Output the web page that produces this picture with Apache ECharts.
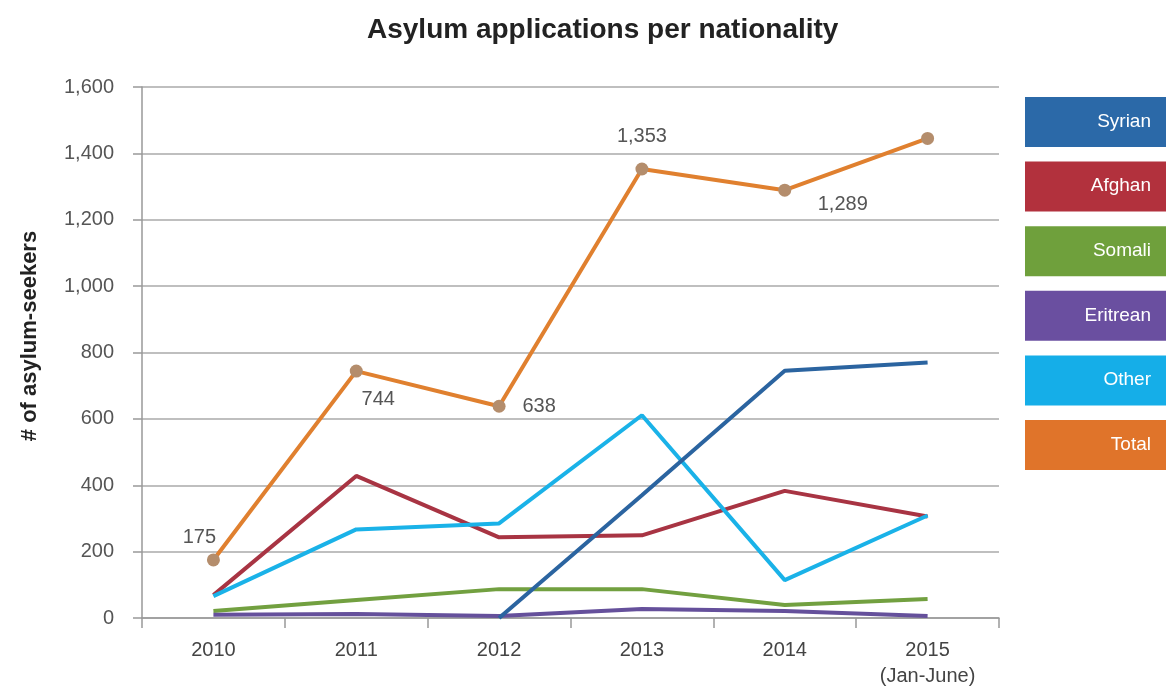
<!DOCTYPE html>
<html>
<head>
<meta charset="utf-8">
<script src="https://cdn.jsdelivr.net/npm/echarts@6/dist/echarts.min.js"></script>
<style>
html,body{margin:0;padding:0;background:#fff;}
#chart{width:1167px;height:689px;}
</style>
</head>
<body>
<div id="chart"></div>
<script>
var categories = ['2010', '2011', '2012', '2013', '2014', '2015\n(Jan-June)'];
var seriesNames = ['Syrian', 'Afghan', 'Somali', 'Eritrean', 'Other', 'Total'];
var syrian   = [null, null, 0, 370, 745, 770];
var afghan   = [69, 428, 243, 249, 383, 306];
var somali   = [21, 54, 87, 87, 39, 57];
var eritrean = [10, 12, 6, 27, 21, 6];
var other    = [66, 267, 285, 611, 114, 309];
var total    = [175, 744, 638, 1353, 1289, 1445];
var yTicks   = [0, 200, 400, 600, 800, 1000, 1200, 1400, 1600];
var yAxisTitle = '# of asylum-seekers';

var lineColors   = ['#2b64a0', '#a83443', '#72a040', '#65509b', '#1ab2e8', '#e0802f'];
var legendColors = ['#2b69a8', '#b2313d', '#6fa03c', '#6a4fa0', '#15aee8', '#e0742a'];
var totalLabelPos = [[-14, -22], [22, 28], [40, 0], [0, -32], [58, 14], null];

var values = [syrian, afghan, somali, eritrean, other, total];

function fmt(v){ return v.toString().replace(/\B(?=(\d{3})+(?!\d))/g, ','); }

var series = values.map(function(arr, i){
  var isTotal = seriesNames[i] === 'Total';
  var data = arr.map(function(v, j){
    if (!isTotal) return v;
    var p = totalLabelPos[j];
    return {
      value: v,
      label: p ? {show: true, position: 'inside', offset: p, formatter: function(){ return fmt(v); },
                  color: '#555', fontSize: 20, fontFamily: 'Liberation Sans'} : {show: false}
    };
  });
  return {
    name: seriesNames[i],
    type: 'line',
    data: data,
    z: isTotal ? 10 : (i === 0 ? 6 : 5),
    symbol: isTotal ? 'circle' : 'none',
    symbolSize: 13,
    showSymbol: isTotal,
    itemStyle: {color: isTotal ? '#b48d6c' : lineColors[i]},
    lineStyle: {color: lineColors[i], width: 4},
    emphasis: {disabled: true},
    animation: false
  };
});

var graphics = [];
seriesNames.forEach(function(n, i){
  var top = 97 + i * 64.6;
  graphics.push({
    type: 'rect', left: 1025, top: top,
    shape: {width: 141, height: 50},
    style: {fill: legendColors[i]}
  });
  graphics.push({
    type: 'text', right: 1167 - 1151, top: top + 15,
    style: {text: n, fill: '#fff', font: '19px "Liberation Sans Narrow", "Liberation Sans", sans-serif', textAlign: 'right'}
  });
});
graphics.push({
  type: 'text', x: 30, y: 336, rotation: Math.PI / 2,
  style: {text: yAxisTitle, fill: '#222', font: 'bold 22px "Liberation Sans", sans-serif',
          textAlign: 'center', textVerticalAlign: 'middle'}
});

var chart = echarts.init(document.getElementById('chart'), null, {renderer: 'canvas'});
chart.setOption({
  backgroundColor: '#fff',
  animation: false,
  title: {
    text: 'Asylum applications per nationality',
    left: 362, top: 11,
    textStyle: {fontSize: 28, fontWeight: 'bold', color: '#222', fontFamily: 'Liberation Sans'}
  },
  grid: {left: 142, right: 168, top: 87, bottom: 61, containLabel: false},
  xAxis: {
    type: 'category',
    data: categories,
    boundaryGap: true,
    axisLine: {show: true, lineStyle: {color: '#999', width: 1.5}},
    axisTick: {show: true, interval: 0, length: 10, lineStyle: {color: '#999', width: 1.5}},
    axisLabel: {interval: 0, color: '#444', fontSize: 20, fontFamily: 'Liberation Sans', margin: 19, lineHeight: 26}
  },
  yAxis: {
    type: 'value',
    min: yTicks[0], max: yTicks[yTicks.length - 1], interval: 200,
    axisLine: {show: true, lineStyle: {color: '#999', width: 1.5}},
    axisTick: {show: true, length: 9, lineStyle: {color: '#999', width: 1.5}},
    axisLabel: {color: '#555', fontSize: 20, fontFamily: 'Liberation Sans', margin: 28,
                formatter: function(v){ return fmt(v); }},
    splitLine: {show: true, lineStyle: {color: '#aaa', width: 1.5}}
  },
  graphic: graphics,
  series: series
});
</script>
</body>
</html>
